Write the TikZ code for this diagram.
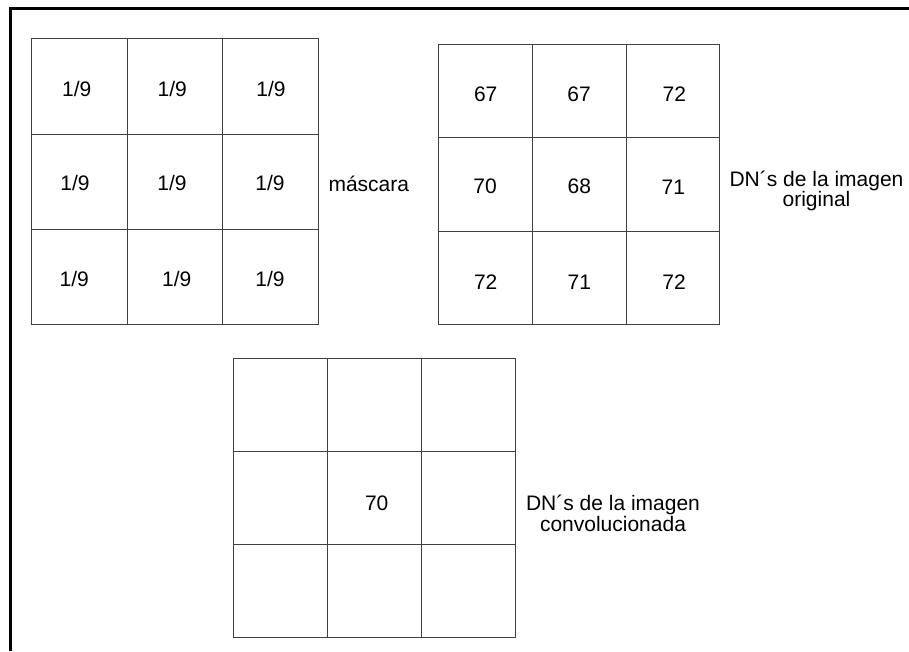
\documentclass[tikz,border=0pt]{standalone}
\usepackage{fontspec}
\setmainfont{Liberation Sans}
\begin{document}
\begin{tikzpicture}[x=1pt,y=-1pt,
  gridline/.style={line width=1pt, draw=black!75},
  frameline/.style={line width=2.6pt, draw=black},
  val/.style={font=\fontsize{21}{19.5}\selectfont, inner sep=0pt, anchor=base},
  lab/.style={font=\fontsize{21}{20.3}\selectfont, inner sep=0pt, align=center, anchor=center}]
\useasboundingbox (0,0) rectangle (909,651);
\fill[white] (0,0) rectangle (909,651);
% outer frame (top and left only)
\draw[frameline] (10.7,651) -- (10.7,8.7) -- (909,8.7);
% grid 1: mask
\draw[gridline] (31,38) rectangle (318,324);
\draw[gridline] (127,38) -- (127,324) (222,38) -- (222,324)
  (31,134) -- (318,134) (31,229) -- (318,229);
% grid 2: original
\draw[gridline] (438,44.3) rectangle (719.5,324.3);
\draw[gridline] (532.3,44.3) -- (532.3,324.3) (626.3,44.3) -- (626.3,324.3)
  (438,137.3) -- (719.5,137.3) (438,231) -- (719.5,231);
% grid 3: convolved
\draw[gridline] (233.3,358.3) rectangle (515.3,637.7);
\draw[gridline] (327.3,358.3) -- (327.3,637.7) (421.3,358.3) -- (421.3,637.7)
  (233.3,451) -- (515.3,451) (233.3,544.3) -- (515.3,544.3);
% mask values
\node[val] (m11) at (76.7,96.7) {1/9};
\node[val] (m12) at (172.3,96.7) {1/9};
\node[val] (m13) at (271,96.7) {1/9};
\node[val] (m21) at (75,190.8) {1/9};
\node[val] (m22) at (172,190.8) {1/9};
\node[val] (m23) at (270,190.8) {1/9};
\node[val] (m31) at (74.3,286.8) {1/9};
\node[val] (m32) at (176.7,286.8) {1/9};
\node[val] (m33) at (270,286.8) {1/9};
% original values
\node[val] (o11) at (485.7,101.7) {67};
\node[val] (o12) at (579,101.7) {67};
\node[val] (o13) at (674.3,101.7) {72};
\node[val] (o21) at (485,193.5) {70};
\node[val] (o22) at (579.3,193.5) {68};
\node[val] (o23) at (673.3,194.5) {71};
\node[val] (o31) at (485.7,289.3) {72};
\node[val] (o32) at (579.3,289.3) {71};
\node[val] (o33) at (674,289.3) {72};
% convolved value
\node[val] (c22) at (376.7,510.7) {70};
% labels
\node[val] (mascara) at (368.8,191.7) {máscara};
\node[lab] (origlab) at (816.5,190.9) {DN´s de la imagen\\original};
\node[lab] (convlab) at (613,513.4) {DN´s de la imagen\\convolucionada};
\end{tikzpicture}
\end{document}
